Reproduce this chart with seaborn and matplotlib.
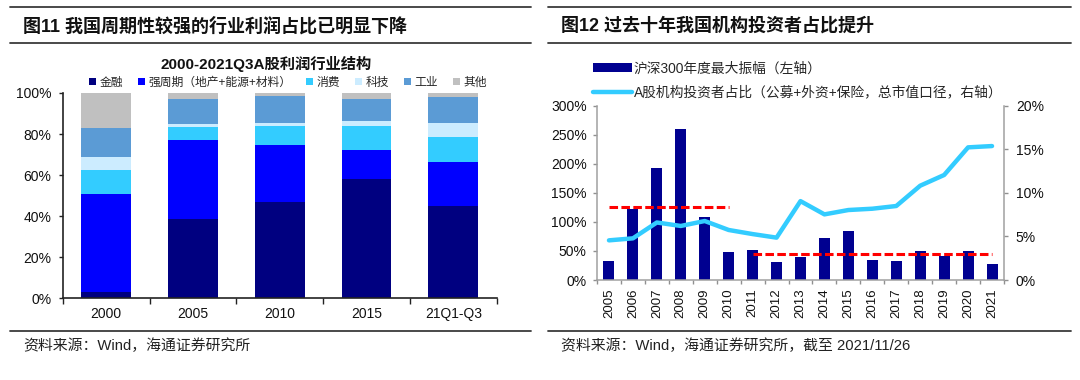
import numpy as np
import pandas as pd
import matplotlib
matplotlib.use("Agg")
import matplotlib.pyplot as plt
import seaborn as sns
from matplotlib.lines import Line2D
from matplotlib.patches import Patch
from matplotlib.ticker import FixedLocator, MultipleLocator, FuncFormatter

# ---------------- data: left chart ----------------
periods = ["2000", "2005", "2010", "2015", "21Q1-Q3"]
sectors = ["金融", "强周期（地产+能源+材料）", "消费", "科技", "工业", "其他"]
finance = [3.2, 38.6, 47.0, 57.9, 45.2]
cyclical = [47.4, 38.4, 27.7, 14.5, 21.1]
consumer = [12.1, 6.5, 9.1, 11.7, 12.5]
tech = [6.2, 1.6, 1.6, 2.4, 6.8]
industry = [13.9, 11.8, 13.1, 10.4, 12.3]
others = [17.2, 3.1, 1.5, 3.1, 2.1]
sector_colors = ["#000080", "#0000FF", "#33CCFF", "#CCECFF", "#5B9BD5", "#C0C0C0"]

# ---------------- data: right chart ----------------
years = ["2005", "2006", "2007", "2008", "2009", "2010", "2011", "2012", "2013",
         "2014", "2015", "2016", "2017", "2018", "2019", "2020", "2021"]
amplitude = [33, 123, 192, 260, 108, 48, 51, 31, 39, 72, 84, 34, 32, 50, 42, 50, 28]
inst_share = [4.55, 4.78, 6.6, 6.2, 6.77, 5.74, 5.27, 4.86, 9.05, 7.53, 8.03,
              8.18, 8.49, 10.82, 12.05, 15.22, 15.37]
avg_pre = 126      # 2005-2010 average amplitude (dashed)
avg_post = 45      # 2011-2021 average amplitude (dashed)
pre_span = ["2005", "2010"]
post_span = ["2011", "2021"]

sns.set_theme(style="white")
plt.rcParams["font.family"] = ["Liberation Sans", "Noto Sans CJK SC"]
plt.rcParams["axes.unicode_minus"] = False

W, H = 1080, 380
fig = plt.figure(figsize=(W / 100, H / 100), dpi=100)
fig.patch.set_facecolor("white")


def fx(px):
    return px / W


def fy(py):
    return 1 - py / H


def rule(x0, x1, y):
    fig.add_artist(Line2D([fx(x0), fx(x1)], [fy(y), fy(y)], transform=fig.transFigure,
                          color="#3a3a3a", lw=1.3))


# ---------------- headers / footers ----------------
for (a, b) in [(10, 531), (548, 1071)]:
    rule(a, b, 7)
    rule(a, b, 43)
    rule(a, b, 331)

fig.text(fx(23), fy(26), "图11 我国周期性较强的行业利润占比已明显下降", fontsize=13,
         fontweight="bold", ha="left", va="center", color="#111111")
fig.text(fx(561), fy(26), "图12 过去十年我国机构投资者占比提升", fontsize=13,
         fontweight="bold", ha="left", va="center", color="#111111")
fig.text(fx(23), fy(346), "资料来源：Wind，海通证券研究所", fontsize=10.7,
         ha="left", va="center", color="#222222")
fig.text(fx(561), fy(346), "资料来源：Wind，海通证券研究所，截至 2021/11/26", fontsize=10.7,
         ha="left", va="center", color="#222222")

# ---------------- left chart ----------------
ax1 = fig.add_axes([fx(62.7), fy(298.3), fx(496.7) - fx(62.7), (298.3 - 93) / H])
df = pd.DataFrame({sectors[0]: finance, sectors[1]: cyclical, sectors[2]: consumer,
                   sectors[3]: tech, sectors[4]: industry, sectors[5]: others},
                  index=periods)
cum = df.cumsum(axis=1)
for sector, color in reversed(list(zip(sectors, sector_colors))):
    sns.barplot(x=periods, y=cum[sector].values, color=color, width=0.576,
                saturation=1, edgecolor="none", linewidth=0, ax=ax1)

ax1.set_xlim(-0.5, len(periods) - 0.5)
ax1.set_ylim(0, 100)
ax1.yaxis.set_major_locator(MultipleLocator(20))
ax1.yaxis.set_major_formatter(FuncFormatter(lambda v, p: f"{v:.0f}%"))
ax1.xaxis.set_minor_locator(FixedLocator(np.arange(-0.5, len(periods), 1.0)))
ax1.tick_params(axis="x", which="major", length=0, pad=6, labelsize=10, labelcolor="#111111")
ax1.tick_params(axis="x", which="minor", length=4, width=1, bottom=True, color="#222222")
ax1.tick_params(axis="y", which="major", length=3, width=1, left=True, pad=5,
                labelsize=10, labelcolor="#111111", color="#222222")
for s in ["top", "right"]:
    ax1.spines[s].set_visible(False)
for s in ["left", "bottom"]:
    ax1.spines[s].set_color("#222222")
    ax1.spines[s].set_linewidth(1.2)
ax1.set_xlabel("")
ax1.set_ylabel("")

fig.text(fx(266), fy(64), "2000-2021Q3A股利润行业结构", fontsize=11, fontweight="bold",
         ha="center", va="center", color="#111111")

handles1 = [Patch(facecolor=c, edgecolor="none") for c in sector_colors]
fig.legend(handles1, sectors, loc="center", bbox_to_anchor=(fx(288), fy(82.7)), ncol=6,
           frameon=False, fontsize=8.5, handlelength=0.6, handleheight=0.6,
           handletextpad=0.3, columnspacing=1.25, borderpad=0, borderaxespad=0)

# ---------------- right chart ----------------
ax2 = fig.add_axes([fx(597), fy(280), fx(1004) - fx(597), (280 - 105.7) / H])
sns.barplot(x=years, y=amplitude, color="#000090", width=0.46, saturation=1,
            edgecolor="none", linewidth=0, ax=ax2)
i0, i1 = years.index(pre_span[0]), years.index(pre_span[1])
j0, j1 = years.index(post_span[0]), years.index(post_span[1])
dash = (0, (2.8, 1.1))
ax2.plot([i0, i1], [avg_pre, avg_pre], color="#FF0000", lw=2.2, linestyle=dash, zorder=5)
ax2.plot([j0, j1], [avg_post, avg_post], color="#FF0000", lw=2.2, linestyle=dash, zorder=5)
ax2.set_ylim(0, 300)
ax2.yaxis.set_major_locator(MultipleLocator(50))
ax2.yaxis.set_major_formatter(FuncFormatter(lambda v, p: f"{v:.0f}%"))

ax3 = ax2.twinx()
sns.pointplot(x=years, y=inst_share, color="#33CCFF", markers="", linewidth=3.2,
              errorbar=None, ax=ax3, solid_capstyle="round", solid_joinstyle="round")
ax3.set_ylim(0, 20)
ax3.yaxis.set_major_locator(MultipleLocator(5))
ax3.yaxis.set_major_formatter(FuncFormatter(lambda v, p: f"{v:.0f}%"))

for ax in (ax2, ax3):
    ax.set_xlim(-0.5, len(years) - 0.5)
    ax.set_xlabel("")
    ax.set_ylabel("")
ax2.set_xticks(range(len(years)))
ax2.set_xticklabels(years, rotation=90)
ax2.xaxis.set_minor_locator(FixedLocator(np.arange(-0.5, len(years), 1.0)))
ax2.tick_params(axis="x", which="major", length=0, pad=6, labelsize=9.5, labelcolor="#111111")
ax2.tick_params(axis="x", which="minor", length=3, width=1, bottom=True, color="#909090")
ax2.tick_params(axis="y", which="major", length=3, width=1, left=True, pad=4.5,
                labelsize=10, labelcolor="#111111", color="#909090")
ax3.tick_params(axis="y", which="major", length=3, width=1, right=True, pad=5.5,
                labelsize=10, labelcolor="#111111", color="#909090")
ax3.tick_params(axis="x", which="both", length=0, labelbottom=False, bottom=False)
for s in ["top", "right"]:
    ax2.spines[s].set_visible(False)
for s in ["left", "bottom"]:
    ax2.spines[s].set_color("#A0A0A0")
    ax2.spines[s].set_linewidth(1.1)
for s in ["top", "left", "bottom"]:
    ax3.spines[s].set_visible(False)
ax3.spines["right"].set_color("#A0A0A0")
ax3.spines["right"].set_linewidth(1.1)

handles2 = [Patch(facecolor="#000090", edgecolor="none"),
            Line2D([0], [0], color="#33CCFF", lw=3.2)]
labels2 = ["沪深300年度最大振幅（左轴）", "A股机构投资者占比（公募+外资+保险，总市值口径，右轴）"]
fig.legend(handles2, labels2, loc="center left", bbox_to_anchor=(fx(593), fy(80.3)),
           frameon=False, fontsize=9.9, handlelength=2.8, handleheight=0.6,
           handletextpad=0.15, labelspacing=0.7, borderpad=0, borderaxespad=0)

fig.savefig("out.png", dpi=100, facecolor="white")
